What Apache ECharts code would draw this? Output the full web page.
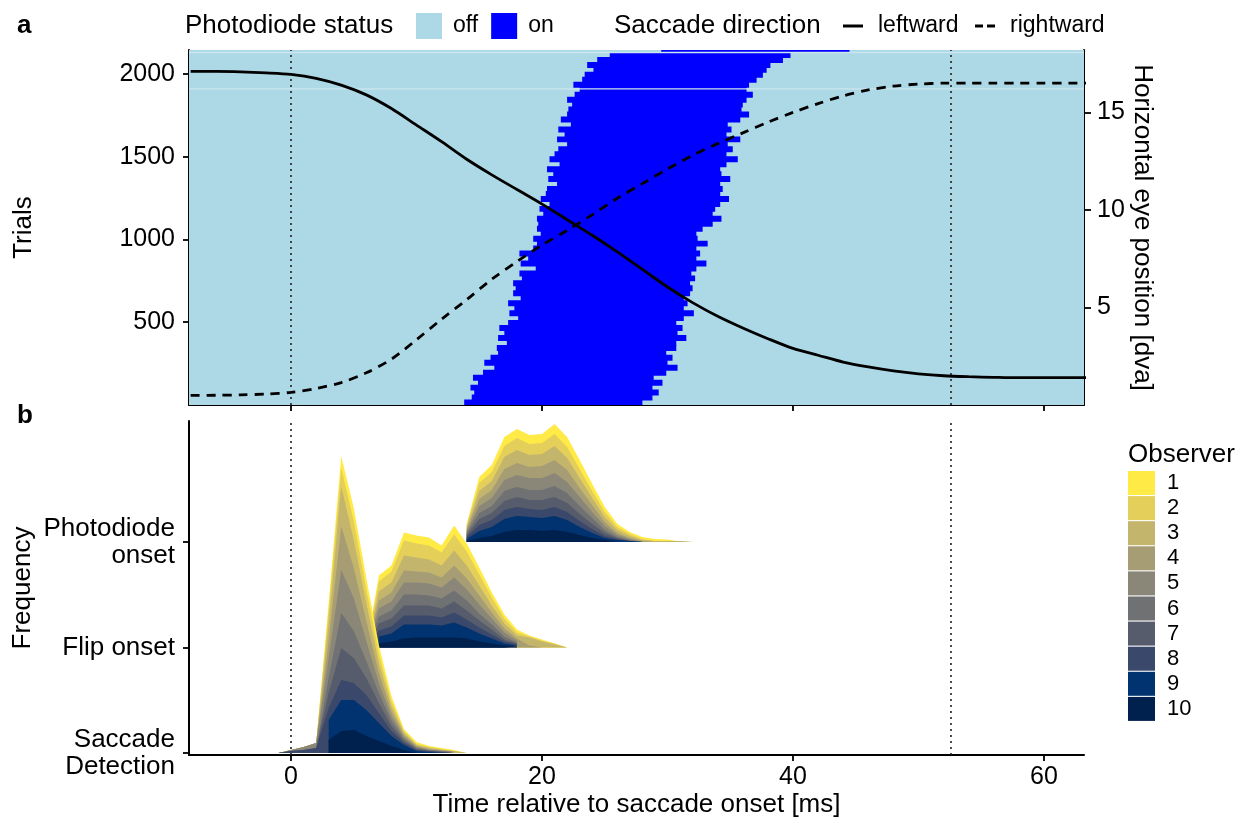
<!DOCTYPE html>
<html><head><meta charset="utf-8">
<script src="https://cdn.jsdelivr.net/npm/echarts@6.0.0/dist/echarts.min.js"></script>
<style>html,body{margin:0;padding:0;background:#fff}#c{width:1251px;height:820px}</style>
</head><body><div id="c"></div><script>
const FONT = '"Liberation Sans", Arial, Helvetica, sans-serif';

// ---------- Panel a : photodiode raster ----------
const trialBinSize = 30;                 // trials per raster row group, starting at trial 0
const onsetMs = [13.8,14.4,14.6,14.3,14.9,14.5,15.3,16.2,15.4,15.9,
  16.5,16.4,17.2,16.5,17.0,16.6,17.3,18.1,17.4,17.8,
  17.3,18.3,17.7,17.9,17.7,18.4,18.2,19.5,18.3,18.9,
  18.2,19.3,19.6,19.3,19.9,19.6,19.7,19.6,20.1,19.8,
  20.6,19.9,20.3,20.4,21.2,20.5,20.9,20.4,21.4,20.6,
  21.0,21.3,22.0,21.2,21.8,21.3,22.3,21.5,22.0,22.1,
  22.4,22.0,22.6,23.0,22.5,23.2,23.4,24.1,23.6,24.4,25.4];
const offsetMs = [28.0,28.8,29.3,28.8,29.6,28.9,29.9,30.8,30.0,30.4,
  29.9,30.7,30.7,31.5,30.8,31.2,30.7,31.3,32.1,31.3,
  31.6,31.3,31.8,32.0,31.8,32.2,31.9,32.3,33.1,32.3,
  32.6,32.3,33.2,32.4,32.3,32.8,33.6,34.3,33.6,33.8,
  34.2,34.9,34.2,34.4,34.2,35.0,34.3,34.2,34.7,35.6,
  34.7,35.2,34.8,35.8,34.7,35.1,34.8,35.8,36.5,35.9,
  36.0,36.3,36.8,36.3,36.5,37.1,37.6,37.9,38.2,39.2,39.8];
const lastTrials = [2130, 2145];
const lastOnOff = [29.5, 44.5];
const gapTrials = [1910, 2130];

const timeRange = [-8.13, 63.19];
const trialRange = [0, 2145];
const eyeRange = [0, 18.2];
const timeTicks = [0, 20, 40, 60];
const trialTicks = [500, 1000, 1500, 2000];
const eyeTicks = [5, 10, 15];
const markerTimes = [0, 52.6];

// saccade eye position traces
const curveTime = [-8,-6,-4,-2,0,2,4,6,8,10,12,14,16,18,20,22,24,26,28,30,32,34,36,38,40,42,44,46,48,50,52,54,56,58,60,62,64];
const leftwardPos = [17.1,17.1,17.08,17.03,16.95,16.75,16.4,15.9,15.2,14.35,13.5,12.6,11.8,11.05,10.3,9.5,8.7,7.85,6.95,6.05,5.25,4.55,3.95,3.4,2.9,2.55,2.2,1.95,1.75,1.6,1.5,1.45,1.42,1.4,1.4,1.4,1.4];
const rightwardPos = [0.49,0.5,0.52,0.56,0.65,0.85,1.15,1.65,2.35,3.35,4.4,5.4,6.45,7.35,8.2,8.95,9.75,10.6,11.35,12.1,12.8,13.4,13.95,14.5,15.0,15.45,15.85,16.15,16.35,16.45,16.5,16.5,16.5,16.5,16.5,16.5,16.5];

// ---------- Panel b : latency distributions per observer ----------
const ridgeLabels = ['Saccade\nDetection', 'Flip onset', 'Photodiode\nonset'];
const ridgeRange = [0.981, 4.147];
const ridgeScale = 1 / 105.5;   // frequency units -> ridge spacing units
const observers = ['1','2','3','4','5','6','7','8','9','10'];
const observerColors = ['#FFEA46','#E4CF5B','#C4B56C','#A69D75','#8A8779','#707173','#575C6D','#39486B','#00336F','#00204D'];

const saccadeStart = -1;   // ms of first bin
const saccadeFreq = [
  [null,null,null,0,7,12,13,11,9,5,2,2,1,1,1,0],
  [null,null,null,0,13,18,19,14,9,5,2,1,1,1,0,0],
  [null,null,null,0,18,40,28,18,10,5,2,1,1,0,1,0],
  [null,null,null,0,17,44,30,20,10,5,2,1,1,1,0,null],
  [null,1,3,5,20,43,33,20,10,5,2,1,0,0,0,null],
  [null,null,null,0,15,35,27,17,10,5,2,1,1,1,1,null],
  [null,null,null,0,15,32,25,17,10,5,2,1,0,0,0,null],
  [0,2,3,5,12,20,17,15,10,5,2,1,1,1,0,null],
  [null,null,null,null,20,31,30,26,18,10,5,2,1,0,null,null],
  [null,null,null,null,13,22,23,17,12,7,3,0,null,null,null,null]
];
const flipStart = 6;
const flipFreq = [
  [0,6,6,8,8,8,7,9,8,7,5,4,3,1,1,0,0],
  [0,10,11,15,14,14,13,16,14,11,8,5,3,1,1,1,0],
  [0,9,10,15,14,13,12,15,13,10,7,5,3,8,6,3,0],
  [0,8,9,12,11,11,10,12,11,9,6,4,2,2,0,0,0],
  [0,8,9,12,12,12,11,13,11,9,6,4,2,null,null,null,null],
  [0,7,8,11,11,10,10,11,10,7,5,3,1,null,null,null,null],
  [0,7,8,10,10,10,9,11,9,7,5,2,1,null,null,null,null],
  [0,6,7,9,9,9,8,10,8,6,4,2,1,null,null,null,null],
  [null,7,8,14,13,13,12,15,11,8,5,2,1,null,null,null,null],
  [null,4,6,9,10,10,10,10,9,6,4,2,1,null,null,null,null]
];
const photodiodeStart = 14;
const photodiodeFreq = [
  [1,6,7,9,9,9,9,10,10,9,7,5,3,2,2,2,2,0,null],
  [2,8,9,11,12,11,11,12,11,9,7,5,3,2,1,0,0,0,null],
  [2,8,9,12,13,12,12,14,12,10,7,5,3,2,1,1,0,0,null],
  [2,7,8,11,12,11,12,13,12,9,7,4,2,1,1,0,0.5,0.5,0],
  [2,7,8,11,12,12,12,13,11,9,6,4,2,1,0,null,null,null,null],
  [2,6,7,10,10,10,10,11,10,8,6,3,1,1,0,null,null,null,null],
  [2,6,7,9,10,9,10,10,9,7,5,3,1,0,0,null,null,null,null],
  [2,6,7,9,9,8,8,9,8,6,4,2,1,0,0,null,null,null,null],
  [2,7,9,13,14,13,13,14,12,8,5,2,1,1,0,null,null,null,null],
  [1,4,6,10,12,12,11,12,10,7,4,2,1,null,null,null,null,null,null]
];

// ---------- build ----------
const rasterData = onsetMs.map((on, i) => [i * trialBinSize, (i + 1) * trialBinSize, on, offsetMs[i]]);
rasterData.push([lastTrials[0], lastTrials[1], lastOnOff[0], lastOnOff[1]]);

function rectItem(params, api, pad) {
  const p0 = api.coord([api.value(2), api.value(1)]);
  const p1 = api.coord([api.value(3), api.value(0)]);
  const cs = params.coordSys;
  const shape = echarts.graphic.clipRectByRect(
    {x: p0[0], y: p0[1] - pad, width: p1[0] - p0[0], height: p1[1] - p0[1] + 2 * pad},
    {x: cs.x, y: cs.y, width: cs.width, height: cs.height});
  return shape && {type: 'rect', shape: shape, style: {fill: api.visual('color')}};
}

const series = [];
series.push({
  type: 'custom', name: 'off', xAxisIndex: 0, yAxisIndex: 0, z: 1, silent: true,
  itemStyle: {color: '#ADD8E6'},
  encode: {x: [2, 3], y: [0, 1]},
  data: [[trialRange[0], trialRange[1], timeRange[0], timeRange[1]]],
  renderItem: (p, api) => rectItem(p, api, 0)
});
series.push({
  type: 'custom', name: 'on', xAxisIndex: 0, yAxisIndex: 0, z: 2, silent: true,
  itemStyle: {color: '#0000FF'},
  encode: {x: [2, 3], y: [0, 1]},
  data: rasterData,
  renderItem: (p, api) => rectItem(p, api, 0.5)
});
series.push({
  type: 'custom', name: 'gaps', xAxisIndex: 0, yAxisIndex: 0, z: 3, silent: true,
  encode: {x: [0, 1], y: 2},
  data: gapTrials.map(g => [timeRange[0], timeRange[1], g]),
  renderItem: (params, api) => {
    const a = api.coord([api.value(0), api.value(2)]);
    const b = api.coord([api.value(1), api.value(2)]);
    return {type: 'line', shape: {x1: a[0], y1: a[1], x2: b[0], y2: b[1]}, style: {stroke: '#CBE6EE', lineWidth: 1.3}};
  }
});
series.push({
  type: 'line', name: 'markers-a', xAxisIndex: 0, yAxisIndex: 0, z: 4, silent: true,
  data: markerTimes.map(t => [t, 1000]), symbol: 'none', lineStyle: {opacity: 0},
  markLine: {silent: true, symbol: ['none', 'none'], label: {show: false},
    lineStyle: {type: [2, 4], color: '#222', width: 1.6}, data: markerTimes.map(t => ({xAxis: t}))}
});
series.push({
  type: 'line', name: 'leftward', xAxisIndex: 0, yAxisIndex: 1, z: 5, silent: true,
  data: curveTime.map((t, i) => [t, leftwardPos[i]]), symbol: 'none', smooth: 0.3,
  lineStyle: {color: '#000', width: 2.8, type: 'solid'}, itemStyle: {color: '#000'}
});
series.push({
  type: 'line', name: 'rightward', xAxisIndex: 0, yAxisIndex: 1, z: 5, silent: true,
  data: curveTime.map((t, i) => [t, rightwardPos[i]]), symbol: 'none', smooth: 0.3,
  lineStyle: {color: '#000', width: 2.8, type: [9, 7]}, itemStyle: {color: '#000'}
});

const ridges = [
  {base: 3, start: photodiodeStart, freq: photodiodeFreq},
  {base: 2, start: flipStart, freq: flipFreq},
  {base: 1, start: saccadeStart, freq: saccadeFreq}
];
ridges.forEach(r => {
  const n = r.freq[0].length;
  for (let k = 0; k < observers.length; k++) {
    const data = [];
    for (let i = 0; i < n; i++) {
      let any = false, sum = 0;
      for (let j = k; j < observers.length; j++) {
        const v = r.freq[j][i];
        if (v !== null) { any = true; sum += v; }
      }
      data.push([r.start + i, any ? r.base + sum * ridgeScale : null]);
    }
    series.push({
      type: 'line', name: observers[k], xAxisIndex: 1, yAxisIndex: 2, z: 2, silent: true,
      data: data, symbol: 'none', connectNulls: false,
      lineStyle: {width: 0, opacity: 0},
      itemStyle: {color: observerColors[k]},
      areaStyle: {origin: r.base, color: observerColors[k], opacity: 1}
    });
  }
});
series.push({
  type: 'line', name: 'markers-b', xAxisIndex: 1, yAxisIndex: 2, z: 6, silent: true,
  data: markerTimes.map(t => [t, 2]), symbol: 'none', lineStyle: {opacity: 0},
  markLine: {silent: true, symbol: ['none', 'none'], label: {show: false},
    lineStyle: {type: [2, 4], color: '#222', width: 1.6}, data: markerTimes.map(t => ({xAxis: t}))}
});

const axisLine = {show: true, onZero: false, lineStyle: {color: '#000', width: 2}};
const tickStyle = {color: '#000', width: 1.8};
const labelStyle = {fontSize: 25, color: '#000', fontFamily: FONT};
const nameStyle = {fontSize: 26, color: '#000', fontFamily: FONT};
const plain = v => String(v);

const option = {
  animation: false,
  backgroundColor: '#fff',
  textStyle: {fontFamily: FONT},
  grid: [
    {left: 189, right: 167, top: 50, height: 355},
    {left: 189, right: 167, top: 421, height: 334}
  ],
  xAxis: [
    {type: 'value', gridIndex: 0, min: timeRange[0], max: timeRange[1], axisLine: axisLine,
     axisTick: {show: true, length: 6, lineStyle: tickStyle, customValues: timeTicks},
     axisLabel: {show: false, customValues: timeTicks}, splitLine: {show: false}},
    {type: 'value', gridIndex: 1, min: timeRange[0], max: timeRange[1], axisLine: axisLine,
     axisTick: {show: true, length: 6, lineStyle: tickStyle, customValues: timeTicks},
     axisLabel: Object.assign({show: true, margin: 10, customValues: timeTicks, formatter: plain}, labelStyle),
     splitLine: {show: false},
     name: 'Time relative to saccade onset [ms]', nameLocation: 'middle', nameGap: 37, nameMoveOverlap: false, nameTextStyle: nameStyle}
  ],
  yAxis: [
    {type: 'value', gridIndex: 0, position: 'left', min: trialRange[0], max: trialRange[1], axisLine: axisLine,
     axisTick: {show: true, length: 6, lineStyle: tickStyle, customValues: trialTicks},
     axisLabel: Object.assign({margin: 14, customValues: trialTicks, formatter: plain}, labelStyle), splitLine: {show: false},
     name: 'Trials', nameLocation: 'middle', nameRotate: 90, nameGap: 152, nameMoveOverlap: false, nameTextStyle: nameStyle},
    {type: 'value', gridIndex: 0, position: 'right', min: eyeRange[0], max: eyeRange[1], axisLine: axisLine,
     axisTick: {show: true, length: 7, lineStyle: tickStyle, customValues: eyeTicks},
     axisLabel: Object.assign({margin: 13, customValues: eyeTicks, formatter: plain}, labelStyle), splitLine: {show: false},
     name: 'Horizontal eye position [dva]', nameLocation: 'middle', nameRotate: -90, nameGap: 45, nameMoveOverlap: false, nameTextStyle: nameStyle},
    {type: 'value', gridIndex: 1, position: 'left', min: ridgeRange[0], max: ridgeRange[1], axisLine: axisLine,
     axisTick: {show: true, length: 6, lineStyle: tickStyle, customValues: [1, 2, 3]},
     axisLabel: Object.assign({margin: 14, lineHeight: 27, customValues: [1, 2, 3],
       formatter: v => ridgeLabels[Math.round(v) - 1]}, {fontSize: 26, color: '#000', fontFamily: FONT}),
     splitLine: {show: false},
     name: 'Frequency', nameLocation: 'middle', nameRotate: 90, nameGap: 153, nameMoveOverlap: false, nameTextStyle: nameStyle}
  ],
  legend: [
    {data: ['off', 'on'], left: 411, top: 8, itemWidth: 26, itemHeight: 26, itemGap: 13, icon: 'rect',
     selectedMode: false, textStyle: {fontSize: 23, color: '#000', fontFamily: FONT, padding: [0, 0, 0, 6]}},
    {data: [
       {name: 'leftward', icon: 'path://M0,0H20V3H0Z'},
       {name: 'rightward', icon: 'path://M0,0H8V3H0Z M12,0H20V3H12Z'}],
     left: 838, top: 9.5, itemWidth: 20, itemHeight: 3, itemGap: 16.5,
     itemStyle: {color: '#000', borderWidth: 0}, lineStyle: {width: 0},
     selectedMode: false, textStyle: {fontSize: 23, color: '#000', fontFamily: FONT, padding: [0, 0, 0, 10]}},
    {data: observers, orient: 'vertical', left: 1123, top: 466, itemWidth: 27, itemHeight: 24, itemGap: 1.1,
     icon: 'rect', selectedMode: false, textStyle: {fontSize: 22, color: '#000', fontFamily: FONT, padding: [0, 0, 0, 7]}}
  ],
  graphic: [
    {type: 'text', x: 17, y: 26, style: {text: 'a', font: 'bold 26px ' + FONT, fill: '#000', textAlign: 'left', textVerticalAlign: 'middle', align: 'left', verticalAlign: 'middle'}},
    {type: 'text', x: 17, y: 416, style: {text: 'b', font: 'bold 26px ' + FONT, fill: '#000', textAlign: 'left', textVerticalAlign: 'middle', align: 'left', verticalAlign: 'middle'}},
    {type: 'text', x: 185, y: 26, style: {text: 'Photodiode status', font: '26px ' + FONT, fill: '#000', textAlign: 'left', textVerticalAlign: 'middle', align: 'left', verticalAlign: 'middle'}},
    {type: 'text', x: 614, y: 26, style: {text: 'Saccade direction', font: '26px ' + FONT, fill: '#000', textAlign: 'left', textVerticalAlign: 'middle', align: 'left', verticalAlign: 'middle'}},
    {type: 'text', x: 1128, y: 455, style: {text: 'Observer', font: '26px ' + FONT, fill: '#000', textAlign: 'left', textVerticalAlign: 'middle', align: 'left', verticalAlign: 'middle'}}
  ],
  series: series
};
const chart = echarts.init(document.getElementById('c'), null, {renderer: 'canvas', width: 1251, height: 820});
chart.setOption(option);
</script></body></html>
